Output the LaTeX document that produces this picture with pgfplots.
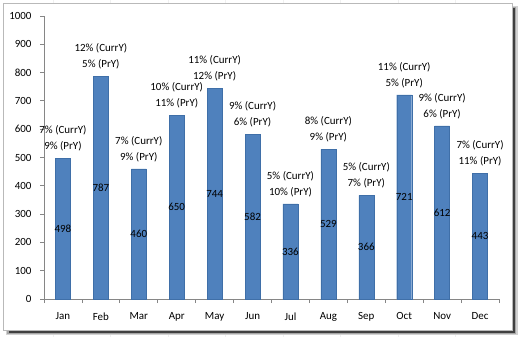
\documentclass[border=0pt]{standalone}
\usepackage{pgfplots}
\pgfplotsset{compat=1.18}
\usepackage{pgfplotstable}
\usepackage{fontspec}
\setmainfont{Carlito}
\definecolor{barblue}{HTML}{4F81BD}
\definecolor{baredge}{HTML}{3F6FA8}
\definecolor{axgray}{HTML}{868686}
\pgfplotstableread{
x v c p
0 498 7 9
1 787 12 5
2 460 7 9
3 650 10 11
4 744 11 12
5 582 9 6
6 336 5 10
7 529 8 9
8 366 5 7
9 721 11 5
10 612 9 6
11 443 7 11
}\datatable
\begin{document}
\begin{tikzpicture}[x=1bp,y=1bp]
\path[use as bounding box] (0,0) rectangle (520,337);
\fill[white] (0,0) rectangle (520,337);
% faint spreadsheet grid
\foreach \gx in {53,110.5,168,225.5,283,340.5,398,455.5} {\draw[gray!12] (\gx,0) -- (\gx,337);}
% shadow
\fill[gray!35] (6,2) rectangle (518,331);
\fill[gray!70] (7,3) rectangle (516,330);
\fill[black!75] (9,4) rectangle (514.5,329);
% frame
\fill[white,draw=gray!55,line width=0.8bp] (3,7) rectangle (512,334);
\begin{axis}[
  at={(44bp,38bp)}, anchor=south west,
  scale only axis, width=455bp, height=283bp,
  xmin=-0.5, xmax=11.5, ymin=0, ymax=1000,
  ytick={0,100,...,1000},
  xtick={0,...,11},
  xticklabels={Jan,Feb,Mar,Apr,May,Jun,Jul,Aug,Sep,Oct,Nov,Dec},
  minor xtick={-0.5,0.5,...,11.5},
  axis x line*=bottom, axis y line*=left,
  axis line style={axgray, line width=0.8bp, -},
  tick style={axgray, line width=0.8bp},
  major x tick style={draw=none},
  tick align=outside,
  major tick length=4bp, minor tick length=4bp,
  tick label style={font=\fontsize{11}{13}\selectfont, text=black},
  yticklabel style={xshift=-5bp},
  xticklabel style={yshift=-6bp},
  /pgf/number format/assume math mode=true,
  /pgf/number format/1000 sep={},
  clip=false,
]
\addplot[ybar, bar width=15bp, fill=barblue, draw=baredge, line width=0.4bp,
  visualization depends on={\thisrow{c} \as \curr},
  visualization depends on={\thisrow{p} \as \pry},
  nodes near coords={\pgfmathprintnumber[int detect]{\curr}\%\ (CurrY)\\\pgfmathprintnumber[int detect]{\pry}\%\ (PrY)},
  every node near coord/.append style={font=\fontsize{11}{16}\selectfont, align=center, anchor=south, inner sep=2bp, yshift=5bp, text=black},
] table[x=x,y=v] {\datatable};
\addplot[only marks, mark=none, point meta=explicit symbolic,
  nodes near coords,
  every node near coord/.append style={font=\fontsize{11}{13}\selectfont, anchor=center, text=black},
] table[x=x, y expr=\thisrow{v}/2, meta=v] {\datatable};
\end{axis}
\end{tikzpicture}
\end{document}
